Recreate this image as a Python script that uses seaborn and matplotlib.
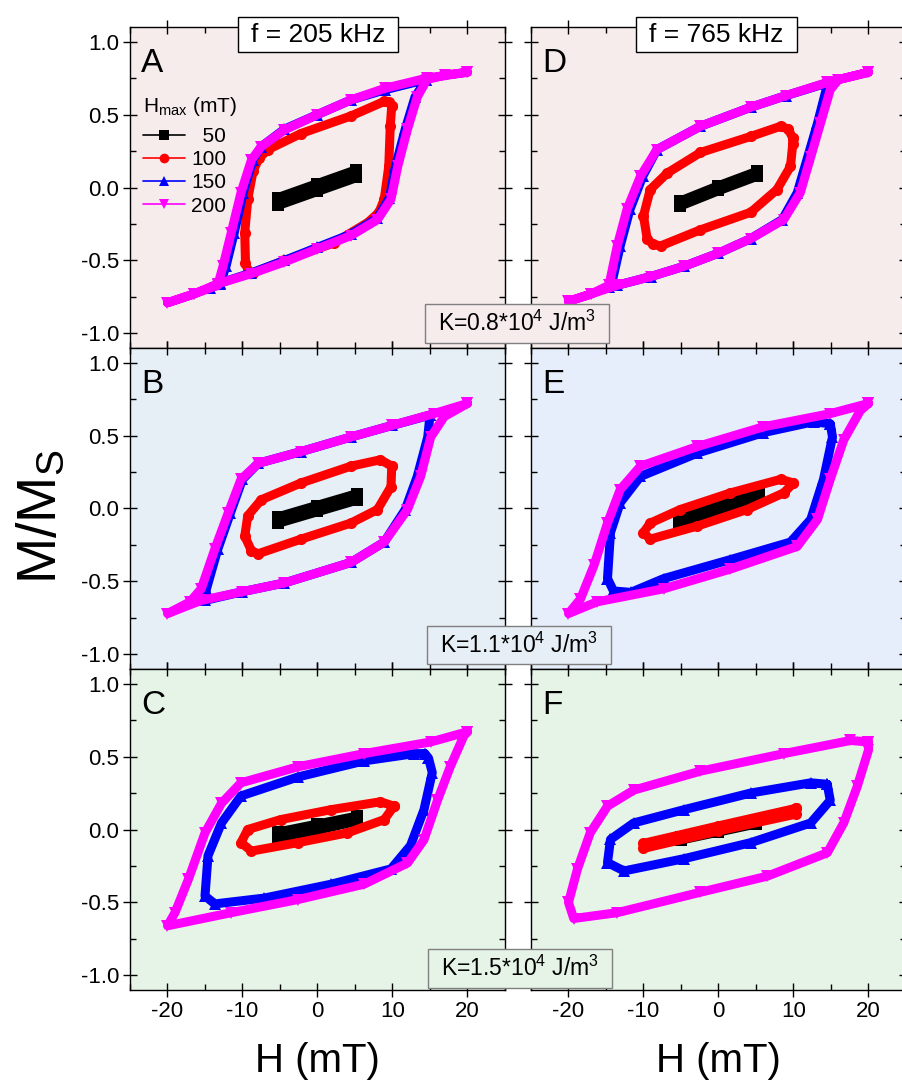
import matplotlib
matplotlib.use("Agg")
import matplotlib.pyplot as plt
import seaborn as sns
from matplotlib.lines import Line2D
from matplotlib.patches import Rectangle
from matplotlib.ticker import MultipleLocator

# ---------------- data ----------------
HMAX_LABELS = ["50", "100", "150", "200"]
FREQ_LABELS = ["f = 205 kHz", "f = 765 kHz"]
K_LABELS = ["K=0.8*10$^{\\mathrm{4}}$ J/m$^{\\mathrm{3}}$",
            "K=1.1*10$^{\\mathrm{4}}$ J/m$^{\\mathrm{3}}$",
            "K=1.5*10$^{\\mathrm{4}}$ J/m$^{\\mathrm{3}}$"]
PANEL_LETTERS = [["A", "D"], ["B", "E"], ["C", "F"]]
X_TICKS = [-20, -10, 0, 10, 20]
Y_TICKS = [-1.0, -0.5, 0.0, 0.5, 1.0]

# Panel A (205 kHz, K=0.8)
A50_H = [5.2, 0.0, -5.2, -5.2, 0.0, 5.2, 5.2]
A50_M = [0.12, 0.025, -0.07, -0.12, -0.025, 0.07, 0.12]
A100_H = [9.9, 9.6, 8.9, 4.45, -2.2, -6.6, -7.8, -8.6, -9.3, -9.7, -9.6, -9.2, -8.6, -4.4, 2.2, 6.7, 8.2, 8.9, 9.5, 9.7, 9.9]
A100_M = [0.56, 0.585, 0.59, 0.49, 0.37, 0.26, 0.20, 0.11, -0.08, -0.31, -0.52, -0.575, -0.585, -0.50, -0.38, -0.24, -0.17, -0.08, 0.145, 0.42, 0.56]
A150_H = [14.5, 9, 4.45, 0, -4.4, -7.5, -8.6, -9.9, -11.1, -12.2, -13.0, -14.3, -13.0, -8.8, -4.4, 0, 4.45, 8, 9.6, 10.4, 11.7, 13.0, 14.5]
A150_M = [0.74, 0.67, 0.60, 0.50, 0.40, 0.28, 0.19, -0.035, -0.31, -0.54, -0.66, -0.69, -0.655, -0.585, -0.50, -0.41, -0.32, -0.21, -0.07, 0.145, 0.40, 0.62, 0.74]
A200_H = [20, 14.6, 9, 4.45, 0, -4.4, -7.5, -8.8, -10.2, -11.5, -12.6, -13.3, -16.5, -20, -16.5, -13.3, -8.8, -4.4, 0, 4.45, 8, 9.8, 10.7, 12, 13.3, 14.6, 17, 20]
A200_M = [0.79, 0.75, 0.68, 0.60, 0.50, 0.395, 0.28, 0.19, -0.035, -0.31, -0.54, -0.67, -0.73, -0.79, -0.73, -0.66, -0.59, -0.51, -0.42, -0.33, -0.22, -0.08, 0.145, 0.40, 0.62, 0.74, 0.77, 0.79]

# Panel D (765 kHz, K=0.8)
D50_H = [5.2, 0, -5.1, -5.1, 0, 5.2, 5.2]
D50_M = [0.11, 0.01, -0.095, -0.125, -0.02, 0.08, 0.11]
D100_H = [9.9, 9.3, 8.3, 4.3, -2.4, -6.8, -9.1, -10.0, -9.5, -8.7, -7.7, -2.4, 4.3, 7.8, 9.6, 9.9, 9.9]
D100_M = [0.34, 0.40, 0.42, 0.35, 0.24, 0.10, -0.014, -0.195, -0.355, -0.39, -0.40, -0.29, -0.17, -0.014, 0.145, 0.30, 0.34]
D150_H = [14.7, 9, 4.3, -2.4, -8.2, -10.1, -11.8, -13.1, -14.2, -14.6, -13.5, -9.0, -4.6, 0, 4.3, 8.5, 10.5, 11.9, 13.2, 14.3, 14.7]
D150_M = [0.72, 0.63, 0.55, 0.42, 0.26, 0.077, -0.15, -0.40, -0.65, -0.68, -0.67, -0.61, -0.54, -0.45, -0.35, -0.22, -0.036, 0.21, 0.44, 0.66, 0.72]
D200_H = [20, 14.5, 9, 4.3, -2.4, -8.2, -10.4, -12.2, -13.5, -14.6, -17, -20, -17, -13.5, -9, -4.6, 0, 4.3, 8.7, 10.9, 12.3, 13.6, 14.9, 16, 20]
D200_M = [0.79, 0.72, 0.63, 0.55, 0.42, 0.26, 0.077, -0.15, -0.40, -0.67, -0.73, -0.78, -0.73, -0.67, -0.61, -0.54, -0.45, -0.35, -0.22, -0.036, 0.21, 0.44, 0.67, 0.74, 0.79]

# Panel B (205 kHz, K=1.1)
B50_H = [5.3, 0, -5.3, -5.3, 0, 5.3, 5.3]
B50_M = [0.10, 0.02, -0.06, -0.10, -0.02, 0.06, 0.10]
B100_H = [9.9, 8.4, 4.45, -2.2, -7.5, -9.3, -9.7, -8.8, -7.9, -2.2, 4.45, 8.0, 9.8, 9.9]
B100_M = [0.29, 0.334, 0.29, 0.175, 0.06, -0.05, -0.19, -0.29, -0.31, -0.21, -0.10, -0.007, 0.15, 0.29]
B150_H = [15, 10, 4.45, -2.2, -7.9, -10, -11.6, -13.3, -14.8, -15, -10, -4.4, 4.45, 8.9, 11.7, 13.3, 14.7, 15]
B150_M = [0.64, 0.57, 0.49, 0.39, 0.31, 0.2, -0.03, -0.28, -0.55, -0.63, -0.57, -0.51, -0.37, -0.23, -0.007, 0.22, 0.49, 0.64]
B200_H = [20, 15.5, 10, 4.45, -2.2, -7.9, -10.2, -11.9, -13.7, -15.5, -17, -20, -15.5, -10, -4.4, 4.45, 8.9, 12, 13.75, 15.1, 16.9, 20]
B200_M = [0.72, 0.65, 0.57, 0.49, 0.39, 0.31, 0.2, -0.03, -0.28, -0.55, -0.64, -0.72, -0.63, -0.57, -0.51, -0.37, -0.23, -0.007, 0.22, 0.49, 0.63, 0.72]

# Panel E (765 kHz, K=1.1)
E50_H = [5.4, 0, -5.3, -5.3, 0, 5.4, 5.4]
E50_M = [0.10, 0.02, -0.06, -0.11, -0.02, 0.065, 0.10]
E100_H = [10, 8.3, 1.6, -5.1, -9.1, -10, -9.1, -2.8, 3.8, 8.7, 10]
E100_M = [0.175, 0.2, 0.107, -0.007, -0.1, -0.165, -0.21, -0.12, -0.007, 0.107, 0.175]
E150_H = [14.9, 12.7, 6, -2.8, -10.4, -13.1, -14.4, -14.8, -14, -11.7, -7.3, 1.6, 9.6, 12.3, 14, 15.2, 14.9]
E150_M = [0.58, 0.595, 0.52, 0.38, 0.22, 0.04, -0.165, -0.48, -0.565, -0.575, -0.48, -0.35, -0.23, -0.075, 0.2, 0.49, 0.58]
E200_H = [20, 14.9, 6, -2.8, -10.4, -13.1, -14.8, -16.6, -18.4, -20, -16.2, -7.3, 1.6, 10.5, 13.2, 14.9, 16.7, 18.9, 20]
E200_M = [0.72, 0.65, 0.56, 0.425, 0.29, 0.13, -0.10, -0.39, -0.62, -0.72, -0.64, -0.55, -0.415, -0.26, -0.075, 0.2, 0.47, 0.67, 0.72]

# Panel C (205 kHz, K=1.5)
C50_H = [5.3, 0, -5.3, -5.3, 0, 5.3, 5.3]
C50_M = [0.09, 0.035, -0.02, -0.065, -0.003, 0.06, 0.09]
C100_H = [10.2, 8.4, 1.8, -4.9, -9.3, -10.2, -8.8, -2.6, 4.0, 8.9, 10.2]
C100_M = [0.16, 0.19, 0.136, 0.068, 0.0, -0.09, -0.148, -0.09, -0.023, 0.068, 0.16]
C150_H = [14.3, 12.9, 6.2, -2.6, -10.2, -12.8, -14.6, -15, -13.7, -7.1, 1.8, 9.8, 12.4, 14.2, 15.3, 14.8, 14.3]
C150_M = [0.52, 0.52, 0.47, 0.36, 0.23, 0.045, -0.18, -0.455, -0.51, -0.47, -0.375, -0.27, -0.11, 0.136, 0.39, 0.49, 0.52]
C200_H = [20, 15.1, 6.2, -2.6, -10.2, -12.8, -15, -17.2, -19, -20, -11.5, -2.6, 6.2, 12, 14.2, 16, 17.7, 19.5, 20]
C200_M = [0.67, 0.60, 0.52, 0.43, 0.32, 0.18, -0.023, -0.34, -0.57, -0.66, -0.57, -0.48, -0.375, -0.23, -0.07, 0.2, 0.43, 0.64, 0.67]

# Panel F (765 kHz, K=1.5)
F50_H = [5, 0, -5, -5, 0, 5, 5]
F50_M = [0.06, 0.005, -0.05, -0.07, -0.015, 0.04, 0.06]
F100_H = [10.3, 0, -10, -10, 0, 10.3, 10.3]
F100_M = [0.145, 0.025, -0.095, -0.13, -0.01, 0.105, 0.145]
F150_H = [14.5, 12.3, 4.3, -4.6, -11.3, -14.4, -14.8, -12.6, -4.6, 4.3, 12.3, 14.9, 14.5]
F150_M = [0.31, 0.32, 0.25, 0.136, 0.045, -0.068, -0.227, -0.284, -0.2, -0.09, 0.045, 0.2, 0.31]
F200_H = [20, 17.6, 8.7, -2.4, -11.3, -14.8, -17.1, -18.8, -20, -19.3, -13.5, -2.4, 6.5, 14.5, 16.7, 18.5, 20, 20]
F200_M = [0.60, 0.61, 0.52, 0.40, 0.27, 0.16, -0.023, -0.27, -0.5, -0.61, -0.57, -0.43, -0.32, -0.16, 0.045, 0.295, 0.545, 0.60]

LOOPS = {
    "A": [(A50_H, A50_M), (A100_H, A100_M), (A150_H, A150_M), (A200_H, A200_M)],
    "B": [(B50_H, B50_M), (B100_H, B100_M), (B150_H, B150_M), (B200_H, B200_M)],
    "C": [(C50_H, C50_M), (C100_H, C100_M), (C150_H, C150_M), (C200_H, C200_M)],
    "D": [(D50_H, D50_M), (D100_H, D100_M), (D150_H, D150_M), (D200_H, D200_M)],
    "E": [(E50_H, E50_M), (E100_H, E100_M), (E150_H, E150_M), (E200_H, E200_M)],
    "F": [(F50_H, F50_M), (F100_H, F100_M), (F150_H, F150_M), (F200_H, F200_M)],
}

# ---------------- style ----------------
COLORS = ["#000000", "#ff0000", "#0000ff", "#ff00ff"]
MARKERS = ["s", "o", "^", "v"]
BG = {"A": "#f6ecec", "D": "#f6ecec", "B": "#e6eef6", "E": "#e6eefb",
      "C": "#e5f4e7", "F": "#e5f4e7"}
KBOX_BG = ["#f6ecec", "#e6eef6", "#e5f4e7"]

sns.set_theme(style="ticks")
plt.rcParams["font.family"] = ["Liberation Sans", "DejaVu Sans"]
plt.rcParams["mathtext.fontset"] = "custom"
plt.rcParams["mathtext.rm"] = "Liberation Sans"
plt.rcParams["mathtext.it"] = "Liberation Sans:italic"
plt.rcParams["mathtext.bf"] = "Liberation Sans:bold"
plt.rcParams["axes.unicode_minus"] = False
for key in ("text.color", "axes.labelcolor", "xtick.color", "ytick.color",
            "axes.edgecolor", "legend.labelcolor"):
    plt.rcParams[key] = "black"

FW, FH = 903, 1085
fig = plt.figure(figsize=(FW / 100, FH / 100), dpi=100)

col_left = [130, 531]
col_w = 375
row_top = [27, 348, 669]
row_h = 321

axes = {}
for r in range(3):
    for c in range(2):
        letter = PANEL_LETTERS[r][c]
        ax = fig.add_axes([col_left[c] / FW, 1 - (row_top[r] + row_h) / FH,
                           col_w / FW, row_h / FH])
        axes[letter] = ax
        ax.set_facecolor(BG[letter])
        for k, (H, M) in enumerate(LOOPS[letter]):
            sns.lineplot(x=H, y=M, sort=False, estimator=None, ax=ax,
                         color=COLORS[k], marker=MARKERS[k], markersize=8,
                         markeredgewidth=0, linewidth=6.5 if k else 7,
                         solid_joinstyle="round", solid_capstyle="round",
                         legend=False, zorder=2 + k)
        ax.set_xlim(-25, 25)
        ax.set_ylim(-1.1, 1.1)
        ax.set_xticks(X_TICKS)
        ax.set_yticks(Y_TICKS)
        ax.xaxis.set_minor_locator(MultipleLocator(5))
        ax.yaxis.set_minor_locator(MultipleLocator(0.25))
        ax.tick_params(which="major", direction="inout", length=10, width=1,
                       top=True, right=True, bottom=True, left=True,
                       labelsize=16, pad=3, colors="black", labelcolor="black")
        ax.tick_params(which="minor", direction="in", length=4, width=1,
                       top=True, right=True, bottom=True, left=True,
                       colors="black")
        for s in ax.spines.values():
            s.set_color("black")
            s.set_linewidth(1)
            s.set_visible(True)
        ax.set_xlabel("")
        ax.set_ylabel("")
        if c == 0:
            ax.set_yticklabels([f"{v:.1f}" for v in Y_TICKS])
        else:
            ax.set_yticklabels([])
        if r == 2:
            ax.set_xticklabels([str(v) for v in X_TICKS])
        else:
            ax.set_xticklabels([])
        ax.text(0.03, 0.935, letter, transform=ax.transAxes, fontsize=24,
                ha="left", va="top", zorder=10, color="black")

# legend in panel A (title drawn separately so its gap matches the reference)
axA = axes["A"]
axA.text((143 - 130) / col_w, (348 - 107) / row_h, "H$_{\\mathrm{max}}$ (mT)",
         transform=axA.transAxes, fontsize=15, ha="left", va="center",
         color="black", zorder=10)
handles = [Line2D([], [], color=COLORS[k], lw=1.2, marker=MARKERS[k],
                  markersize=7, markeredgewidth=0) for k in range(4)]
labels = ["  " + HMAX_LABELS[0]] + HMAX_LABELS[1:]
leg = axA.legend(handles, labels, loc="upper left",
                 bbox_to_anchor=((143 - 130) / col_w, (348 - 127) / row_h),
                 frameon=False, fontsize=15, handlelength=2.0,
                 handletextpad=0.3, labelspacing=0.2,
                 borderpad=0, borderaxespad=0)
for t in leg.get_texts():
    t.set_color("black")

# frequency title boxes
for (x0, x1), label in zip([(238, 398), (636, 797)], FREQ_LABELS):
    fig.add_artist(Rectangle((x0 / FW, 1 - 52 / FH), (x1 - x0) / FW, 35 / FH,
                             transform=fig.transFigure, facecolor="white",
                             edgecolor="black", lw=1, zorder=20))
    fig.text((x0 + x1) / 2 / FW, 1 - 35 / FH, label, fontsize=19,
             ha="center", va="center", zorder=21, color="black")

# anisotropy boxes
for (x0, x1, y0, y1), label, bg in zip(
        [(425, 609, 304, 343), (427, 611, 626, 664), (428, 612, 949, 988)],
        K_LABELS, KBOX_BG):
    fig.add_artist(Rectangle((x0 / FW, 1 - y1 / FH), (x1 - x0) / FW, (y1 - y0) / FH,
                             transform=fig.transFigure, facecolor=bg,
                             edgecolor="#808080", lw=1, zorder=20))
    fig.text((x0 + x1) / 2 / FW, 1 - (y0 + y1) / 2 / FH, label, fontsize=16.5,
             ha="center", va="center", zorder=21, color="black")

# axis labels
fig.text(42 / FW, 1 - 517 / FH, "M/M$_{\\mathrm{S}}$", rotation=90, fontsize=40,
         ha="center", va="center", color="black")
for xc in (317.5, 718):
    fig.text(xc / FW, 1 - 1061 / FH, "H (mT)", fontsize=29, ha="center",
             va="center", color="black")

fig.savefig("out.png", dpi=100)
